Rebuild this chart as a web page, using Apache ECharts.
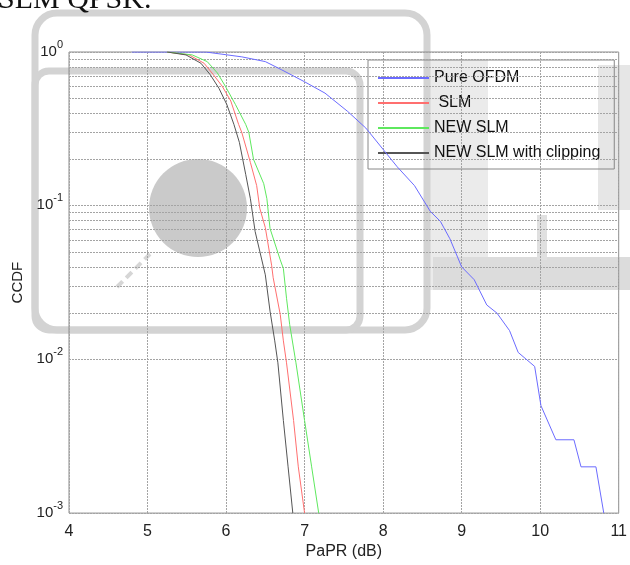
<!DOCTYPE html>
<html>
<head>
<meta charset="utf-8">
<script src="https://cdn.jsdelivr.net/npm/echarts@6/dist/echarts.min.js"></script>
<style>
  html, body { margin: 0; padding: 0; background: #fff; }
  #main { width: 630px; height: 565px; }
</style>
</head>
<body>
<div id="main"></div>
<script>
// CCDF curves, [PaPR dB, probability]
let pureOfdm = [
  [4.8, 1], [5.74, 1], [6.0, 0.96], [6.2, 0.93], [6.5, 0.866], [6.71, 0.765],
  [7.0, 0.64], [7.26, 0.54], [7.55, 0.41], [7.78, 0.32], [8.18, 0.179], [8.4, 0.135],
  [8.6, 0.092], [8.73, 0.079], [8.85, 0.061], [9.0, 0.040], [9.16, 0.033], [9.32, 0.0226],
  [9.45, 0.020], [9.61, 0.0154], [9.72, 0.0111], [9.93, 0.009], [10.01, 0.005],
  [10.2, 0.003], [10.43, 0.003], [10.52, 0.002], [10.71, 0.002], [10.81, 0.001]
];
let slm = [
  [5.25, 1], [5.53, 0.957], [5.72, 0.845], [5.84, 0.71], [5.95, 0.60], [6.06, 0.48],
  [6.16, 0.338], [6.20, 0.30], [6.31, 0.191], [6.39, 0.135], [6.43, 0.096], [6.50, 0.072],
  [6.58, 0.041], [6.60, 0.034], [6.69, 0.0196], [6.73, 0.0132], [6.77, 0.0095],
  [6.86, 0.004], [6.92, 0.002], [7.0, 0.001]
];
let newSlm = [
  [5.25, 1], [5.57, 0.957], [5.76, 0.866], [5.89, 0.73], [5.99, 0.60], [6.12, 0.455],
  [6.25, 0.338], [6.29, 0.30], [6.35, 0.20], [6.48, 0.139], [6.52, 0.111], [6.56, 0.071],
  [6.69, 0.0444], [6.73, 0.039], [6.77, 0.025], [6.81, 0.0169], [6.89, 0.0095],
  [7.0, 0.004], [7.09, 0.002], [7.18, 0.001]
];
let newSlmClip = [
  [5.25, 1], [5.49, 0.957], [5.68, 0.845], [5.80, 0.71], [5.91, 0.58], [6.01, 0.455],
  [6.10, 0.338], [6.17, 0.258], [6.25, 0.16], [6.31, 0.111], [6.37, 0.068], [6.50, 0.0355],
  [6.56, 0.0206], [6.62, 0.0132], [6.66, 0.0095], [6.73, 0.004], [6.79, 0.002], [6.85, 0.001]
];
let seriesNames = ['Pure OFDM', ' SLM', 'NEW SLM', 'NEW SLM with clipping'];
let seriesColors = ['#6b6bff', '#ff6f6f', '#5ee85e', '#555555'];
let xTicks = [4, 11, 1];   // min, max, step
let yRange = [0.001, 1];
let minorGrid = [];
for (let e = -3; e < 0; e++) {
  for (let k = 2; k <= 9; k++) minorGrid.push(k * Math.pow(10, e));
}

let chart = echarts.init(document.getElementById('main'));
let dotted = { color: '#a4a4a4', type: [2, 1], width: 1 };
let font = 'Liberation Sans, Arial';

let curves = [pureOfdm, slm, newSlm, newSlmClip];
let series = curves.map(function (d, i) {
  return {
    name: seriesNames[i],
    type: 'line',
    data: d,
    symbol: 'none',
    showSymbol: false,
    z: 5,
    lineStyle: { width: 1, color: seriesColors[i] },
    itemStyle: { color: seriesColors[i] }
  };
});
// minor log grid lines
series[0].markLine = {
  silent: true,
  symbol: ['none', 'none'],
  animation: false,
  label: { show: false },
  lineStyle: dotted,
  emphasis: { disabled: true },
  data: minorGrid.map(function (v) { return { yAxis: v }; })
};

let option = {
  animation: false,
  backgroundColor: '#fff',
  grid: { left: 69, right: 7, top: 52, bottom: 48, show: true, borderColor: '#8c8c8c', borderWidth: 1 },
  legend: {
    data: seriesNames,
    orient: 'vertical',
    left: 368,
    top: 60,
    padding: [10, 14, 8, 10],
    icon: 'rect',
    itemWidth: 51,
    itemHeight: 2,
    itemGap: 9,
    borderColor: '#888',
    borderWidth: 1,
    textStyle: { fontSize: 16, color: '#111', fontFamily: font }
  },
  xAxis: {
    type: 'value',
    min: xTicks[0],
    max: xTicks[1],
    interval: xTicks[2],
    name: 'PaPR (dB)',
    nameLocation: 'middle',
    nameGap: 30,
    nameTextStyle: { fontSize: 16, color: '#222', fontFamily: font },
    axisLine: { show: false },
    axisTick: { show: false },
    axisLabel: { fontSize: 16, color: '#222', margin: 10, fontFamily: font },
    splitLine: { show: true, lineStyle: dotted }
  },
  yAxis: {
    type: 'log',
    logBase: 10,
    min: yRange[0],
    max: yRange[1],
    name: 'CCDF',
    nameLocation: 'middle',
    nameGap: 44,
    nameTextStyle: { fontSize: 15, color: '#222', fontFamily: font },
    axisLine: { show: false },
    axisTick: { show: false },
    axisLabel: {
      margin: 6,
      padding: [0, 0, 6, 0],
      formatter: function (v) {
        let e = Math.round(Math.log10(v));
        return '{b|10}{s|' + e + '}';
      },
      rich: {
        b: { fontSize: 15, color: '#222', lineHeight: 20, verticalAlign: 'bottom', fontFamily: font },
        s: { fontSize: 11, color: '#222', lineHeight: 20, verticalAlign: 'top', fontFamily: font }
      }
    },
    splitLine: { show: true, lineStyle: dotted }
  },
  graphic: [
    // faint scan watermark behind the plot
    { type: 'rect', z: -10, silent: true, shape: { x: 430, y: 60, width: 58, height: 230 }, style: { fill: '#ebebeb' } },
    { type: 'rect', z: -10, silent: true, shape: { x: 433, y: 257, width: 197, height: 33 }, style: { fill: '#dcdcdc' } },
    { type: 'rect', z: -10, silent: true, shape: { x: 537, y: 215, width: 10, height: 45 }, style: { fill: '#e0e0e0' } },
    { type: 'rect', z: -10, silent: true, shape: { x: 598, y: 65, width: 32, height: 145 }, style: { fill: '#e6e6e6' } },
    { type: 'rect', z: -9, silent: true, shape: { x: 35, y: 13, width: 392, height: 317, r: 22 }, style: { fill: 'none', stroke: '#d3d3d3', lineWidth: 7 } },
    { type: 'rect', z: -9, silent: true, shape: { x: 35, y: 71, width: 325, height: 259, r: 14 }, style: { fill: 'none', stroke: '#d3d3d3', lineWidth: 7 } },
    { type: 'circle', z: -9, silent: true, shape: { cx: 198, cy: 208, r: 49 }, style: { fill: '#cacaca' } },
    { type: 'line', z: -9, silent: true, shape: { x1: 117, y1: 287, x2: 150, y2: 254 }, style: { stroke: '#d6d6d6', lineWidth: 4, lineDash: [8, 5] } },
    { type: 'text', z: 1, silent: true, style: { x: -2, y: 15, text: 'SLM QPSK.', verticalAlign: 'bottom', font: '30px "Liberation Serif", "Times New Roman", serif', fill: '#111' } }
  ],
  series: series
};
chart.setOption(option);
</script>
</body>
</html>
